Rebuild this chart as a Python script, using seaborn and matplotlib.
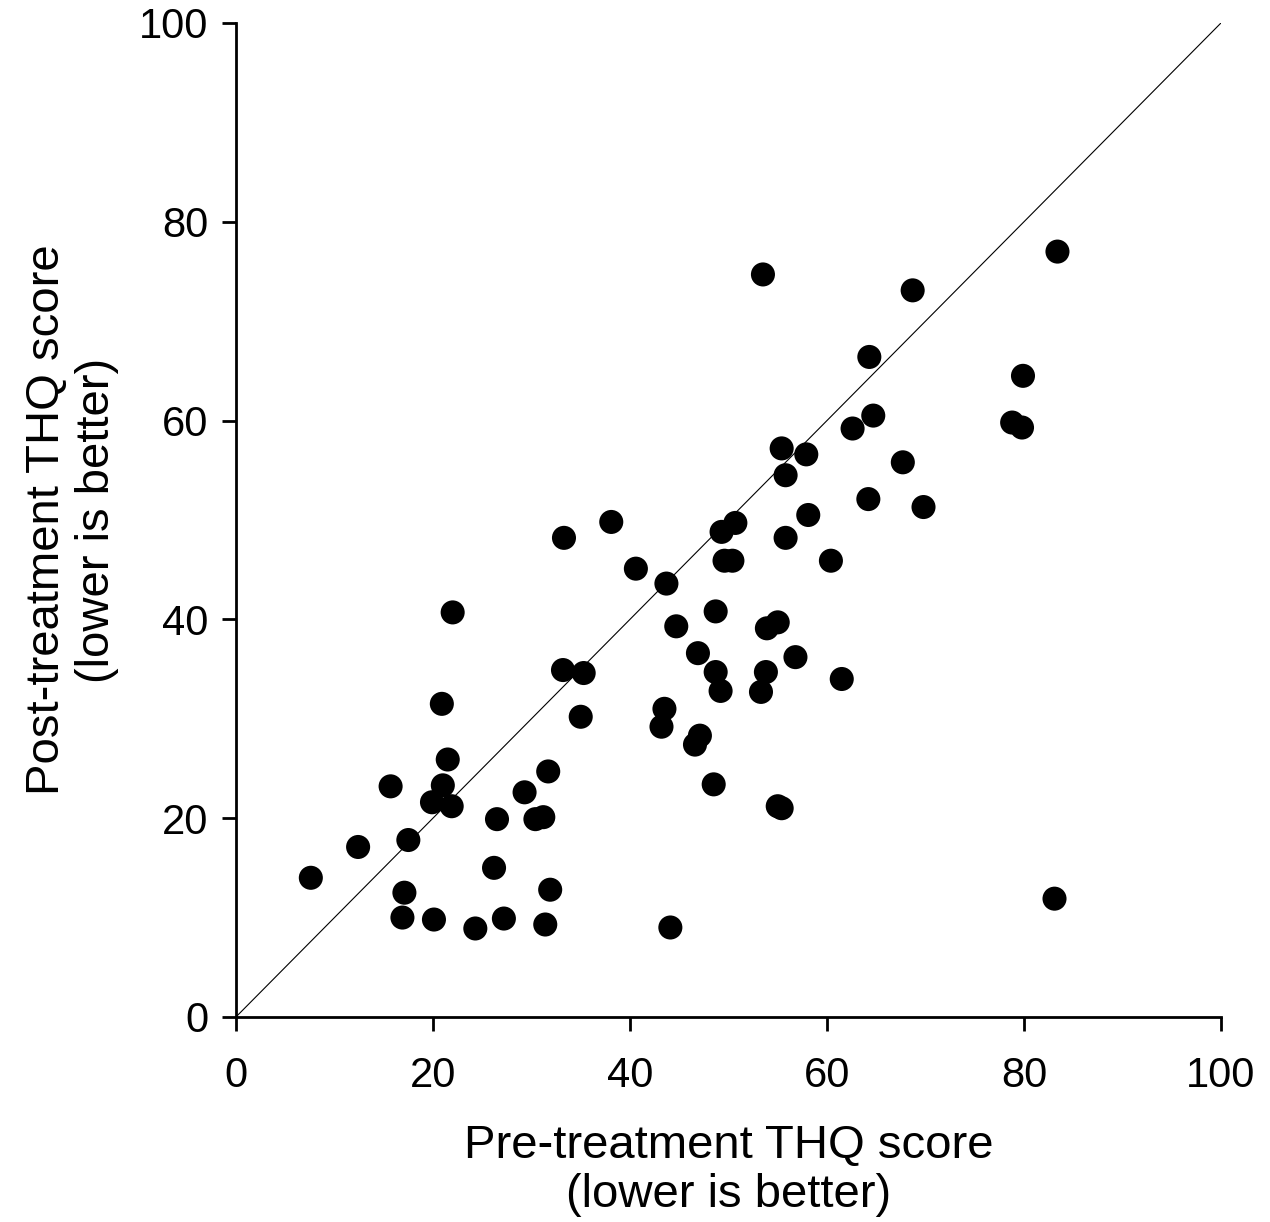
import pandas as pd
import matplotlib
matplotlib.use("Agg")
import matplotlib.pyplot as plt
import seaborn as sns

# THQ scores (one point per patient)
pre_thq = [7.6, 12.4, 15.7, 17.5, 17.1, 16.9, 20.1, 19.9, 21.0, 20.9,
           21.5, 21.9, 22.0, 24.3, 26.5, 26.2, 27.2, 29.3, 30.4, 31.2,
           31.7, 31.4, 31.9, 33.3, 33.2, 35.3, 35.0, 38.1, 40.6, 43.7,
           43.5, 43.2, 44.1, 44.7, 46.9, 46.6, 47.1, 48.5, 48.7, 48.7,
           49.2, 49.3, 49.6, 50.4, 50.7, 53.3, 53.5, 53.9, 53.8, 55.0,
           55.0, 55.4, 55.4, 55.8, 55.8, 56.8, 57.9, 58.1, 60.4, 61.5,
           62.6, 64.3, 64.2, 64.7, 67.7, 68.7, 69.8, 78.8, 79.8, 79.9,
           83.4, 83.1]
post_thq = [14.0, 17.1, 23.2, 17.8, 12.5, 10.0, 9.8, 21.6, 23.3, 31.5,
            25.9, 21.2, 40.7, 8.9, 19.9, 15.0, 9.9, 22.6, 19.9, 20.1,
            24.7, 9.3, 12.8, 48.2, 34.9, 34.6, 30.2, 49.8, 45.1, 43.6,
            31.0, 29.2, 9.0, 39.3, 36.6, 27.4, 28.3, 23.4, 40.8, 34.7,
            32.8, 48.8, 45.9, 45.9, 49.7, 32.7, 74.7, 39.1, 34.7, 39.7,
            21.2, 21.0, 57.2, 54.5, 48.2, 36.2, 56.6, 50.5, 45.9, 34.0,
            59.2, 66.4, 52.1, 60.5, 55.8, 73.1, 51.3, 59.8, 59.3, 64.5,
            77.0, 11.9]
ticks = [0, 20, 40, 60, 80, 100]

df = pd.DataFrame({"pre": pre_thq, "post": post_thq})

sns.set_style("ticks")
plt.rcParams["font.family"] = ["Liberation Sans", "DejaVu Sans"]

fig = plt.figure(figsize=(12.7, 12.22), dpi=100)
ax = fig.add_axes([0.1858, 0.1678, 0.7756, 0.8134])

# line of identity
ax.plot([ticks[0], ticks[-1]], [ticks[0], ticks[-1]], color="black", lw=0.8, zorder=1)

sns.scatterplot(data=df, x="pre", y="post", ax=ax, color="black", s=300,
                edgecolor="none", zorder=2, legend=False)

ax.set_xlim(ticks[0], ticks[-1])
ax.set_ylim(ticks[0], ticks[-1])
ax.set_xticks(ticks)
ax.set_yticks(ticks)
ax.tick_params(axis="both", direction="out", length=10, width=2, labelsize=30,
               colors="black")
ax.tick_params(axis="x", pad=18)
ax.tick_params(axis="y", pad=10)
for side in ["top", "right"]:
    ax.spines[side].set_visible(False)
for side in ["left", "bottom"]:
    ax.spines[side].set_linewidth(2)
    ax.spines[side].set_color("black")

ax.set_xlabel("Pre-treatment THQ score\n(lower is better)", fontsize=34,
              labelpad=20, linespacing=1.15, color="black")
ax.set_ylabel("Post-treatment THQ score\n(lower is better)", fontsize=34,
              labelpad=14, linespacing=1.2, color="black")

fig.savefig("out.png", dpi=100)
